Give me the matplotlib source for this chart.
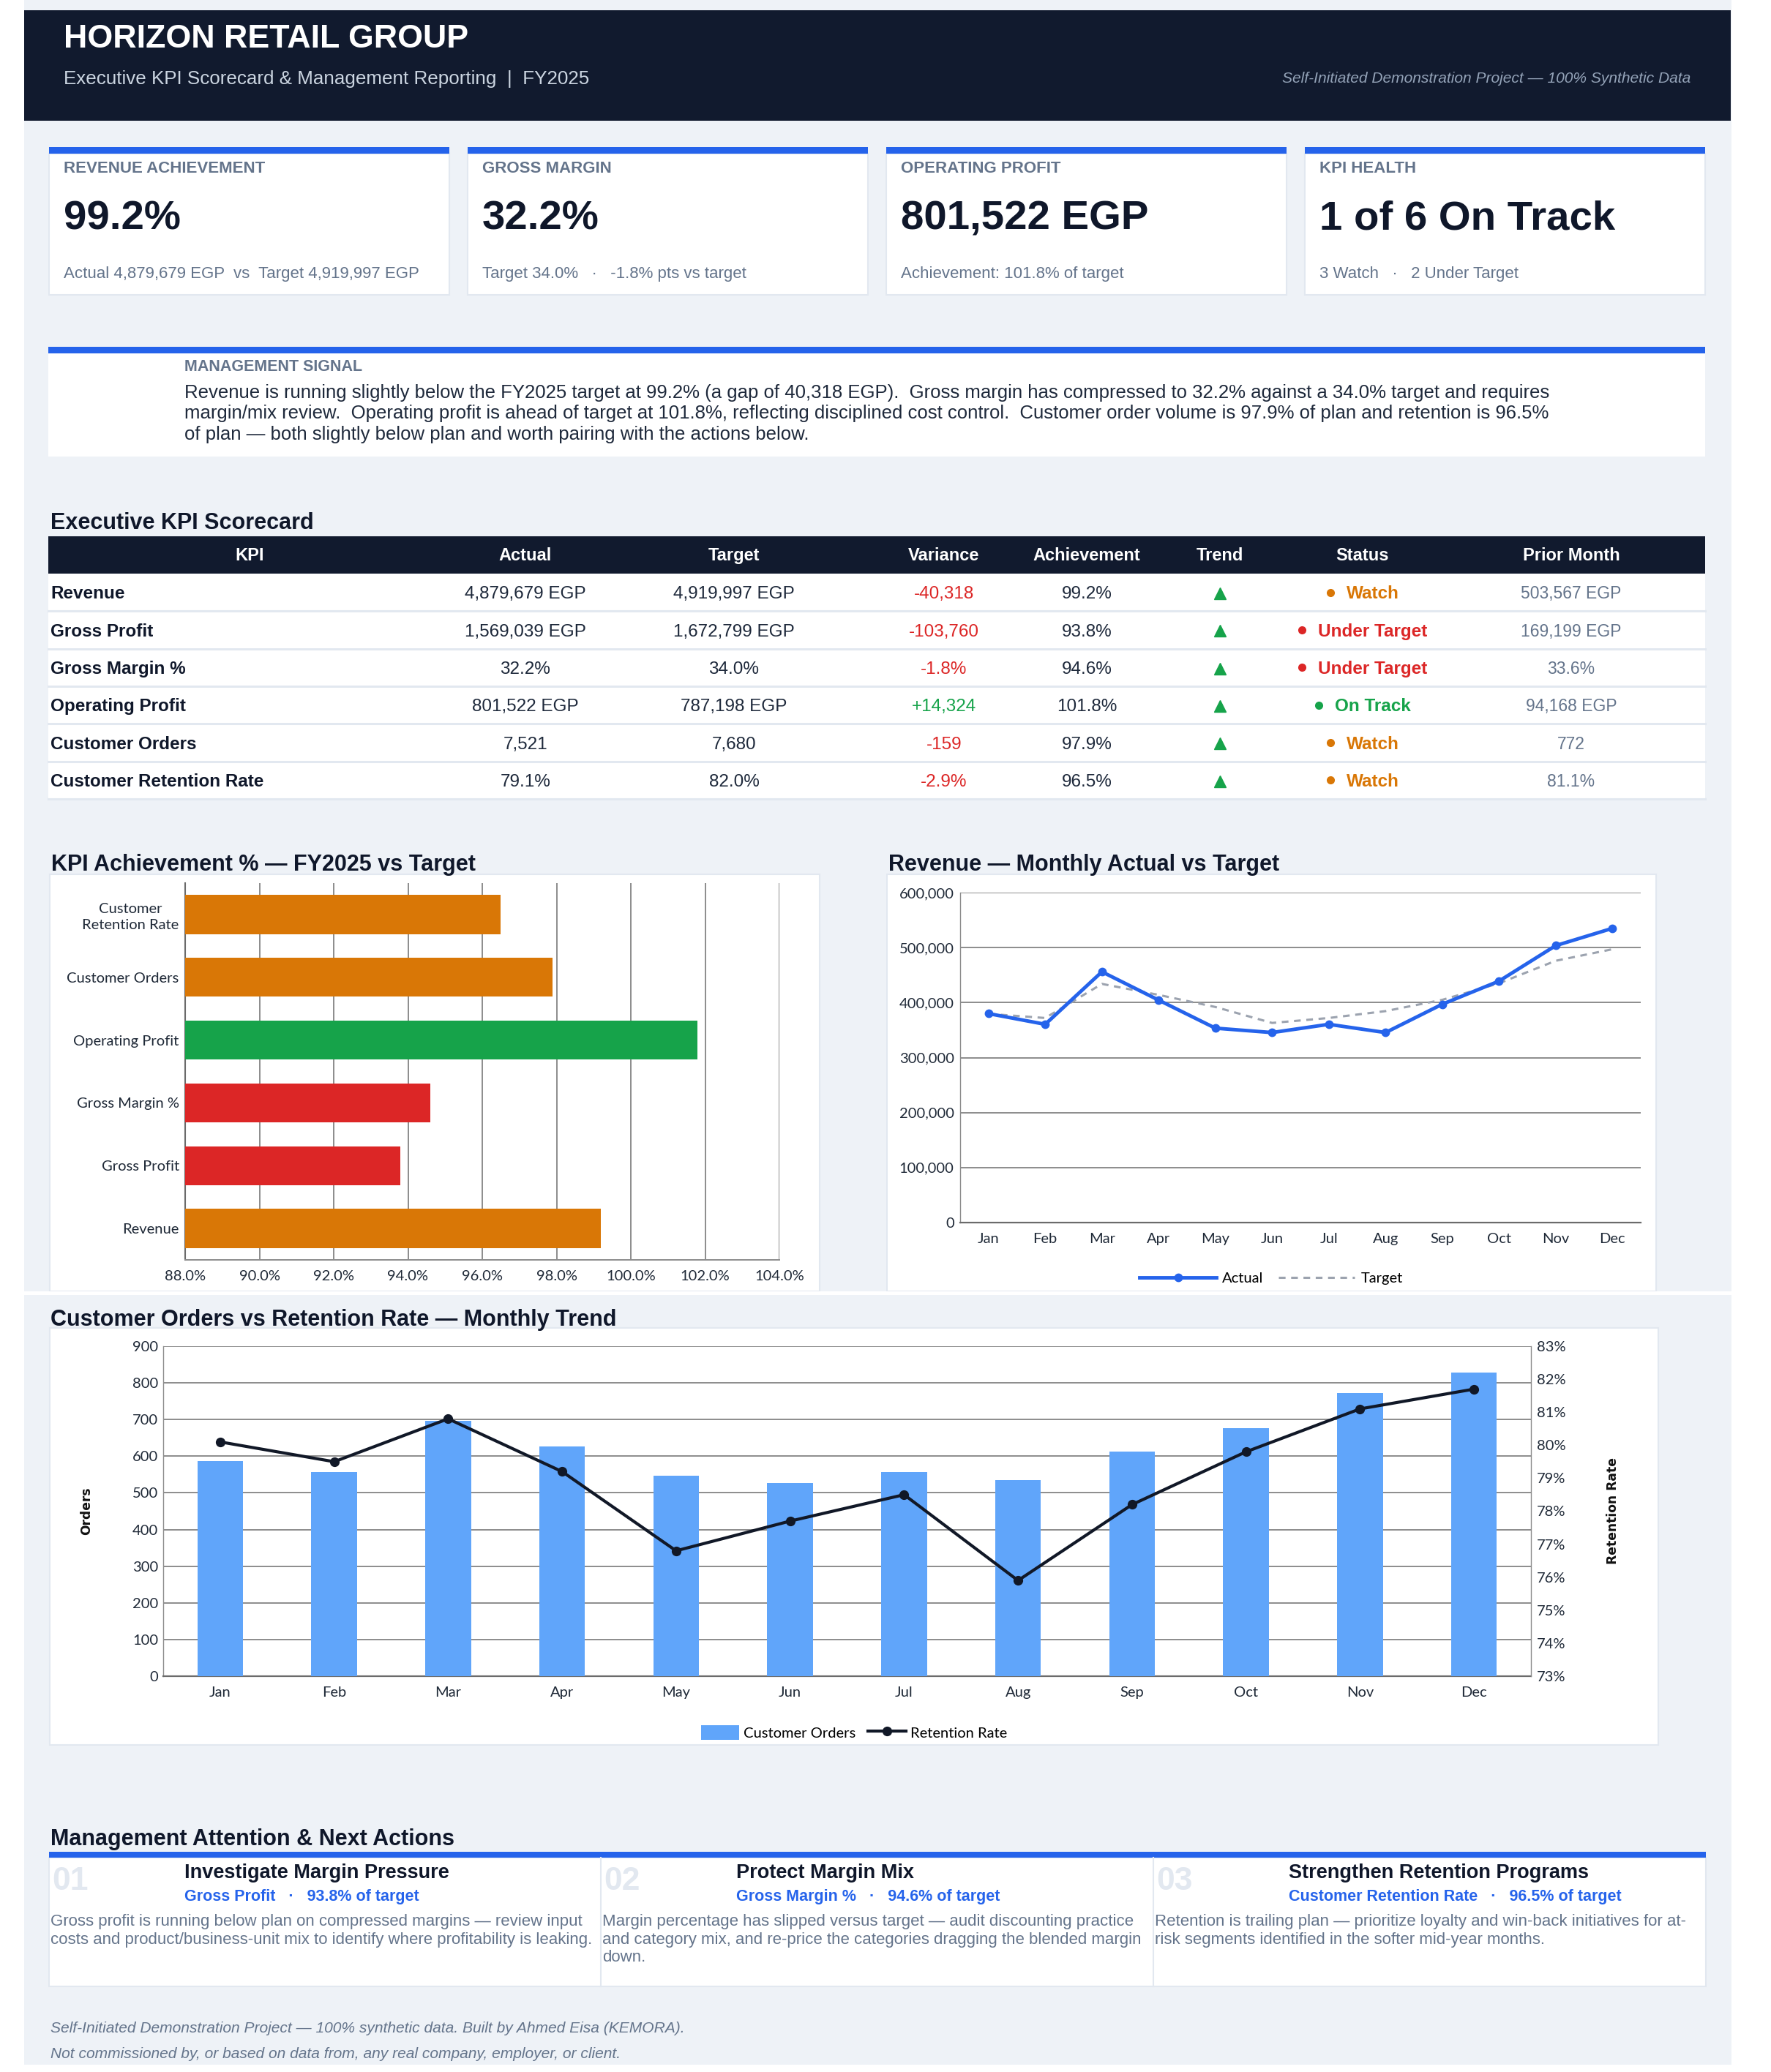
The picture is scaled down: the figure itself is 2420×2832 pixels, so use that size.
import matplotlib
matplotlib.use('Agg')
import matplotlib.pyplot as plt
from matplotlib.patches import Rectangle, Patch
from matplotlib.lines import Line2D
from matplotlib.ticker import FuncFormatter

W, H = 2420, 2832
DPI = 100

# ---------------- data ----------------
months = ['Jan', 'Feb', 'Mar', 'Apr', 'May', 'Jun', 'Jul', 'Aug', 'Sep', 'Oct', 'Nov', 'Dec']
revenue_actual = [380000, 360500, 456000, 404500, 353500, 345500, 360500, 345500, 397000, 439000, 503567, 535000]
revenue_target = [379500, 372000, 434000, 414000, 392000, 363000, 372000, 384500, 405000, 435000, 476000, 497000]
customer_orders = [587, 557, 696, 626, 546, 527, 557, 535, 612, 677, 772, 829]
retention_rate = [80.1, 79.5, 80.8, 79.2, 76.8, 77.7, 78.5, 75.9, 78.2, 79.8, 81.1, 81.7]

kpi_names = ['Revenue', 'Gross Profit', 'Gross Margin %', 'Operating Profit', 'Customer Orders',
             'Customer Retention Rate']
kpi_actual = ['4,879,679 EGP', '1,569,039 EGP', '32.2%', '801,522 EGP', '7,521', '79.1%']
kpi_target = ['4,919,997 EGP', '1,672,799 EGP', '34.0%', '787,198 EGP', '7,680', '82.0%']
kpi_variance = ['-40,318', '-103,760', '-1.8%', '+14,324', '-159', '-2.9%']
kpi_achievement = [99.2, 93.8, 94.6, 101.8, 97.9, 96.5]
kpi_status = ['Watch', 'Under Target', 'Under Target', 'On Track', 'Watch', 'Watch']
kpi_prior = ['503,567 EGP', '169,199 EGP', '33.6%', '94,168 EGP', '772', '81.1%']
table_headers = ['KPI', 'Actual', 'Target', 'Variance', 'Achievement', 'Trend', 'Status', 'Prior Month']

card_labels = ['REVENUE ACHIEVEMENT', 'GROSS MARGIN', 'OPERATING PROFIT', 'KPI HEALTH']
card_values = ['99.2%', '32.2%', '801,522 EGP', '1 of 6 On Track']
card_notes = ['Actual 4,879,679 EGP  vs  Target 4,919,997 EGP',
              'Target 34.0%   \u00b7   -1.8% pts vs target',
              'Achievement: 101.8% of target',
              '3 Watch   \u00b7   2 Under Target']

signal_lines = [
    'Revenue is running slightly below the FY2025 target at 99.2% (a gap of 40,318 EGP).  Gross margin has compressed to 32.2% against a 34.0% target and requires',
    'margin/mix review.  Operating profit is ahead of target at 101.8%, reflecting disciplined cost control.  Customer order volume is 97.9% of plan and retention is 96.5%',
    'of plan \u2014 both slightly below plan and worth pairing with the actions below.',
]

action_numbers = ['01', '02', '03']
action_titles = ['Investigate Margin Pressure', 'Protect Margin Mix', 'Strengthen Retention Programs']
action_subs = ['Gross Profit   \u00b7   93.8% of target', 'Gross Margin %   \u00b7   94.6% of target',
               'Customer Retention Rate   \u00b7   96.5% of target']
action_texts = [
    ['Gross profit is running below plan on compressed margins \u2014 review input',
     'costs and product/business-unit mix to identify where profitability is leaking.'],
    ['Margin percentage has slipped versus target \u2014 audit discounting practice',
     'and category mix, and re-price the categories dragging the blended margin',
     'down.'],
    ['Retention is trailing plan \u2014 prioritize loyalty and win-back initiatives for at-',
     'risk segments identified in the softer mid-year months.'],
]
footer_lines = ['Self-Initiated Demonstration Project \u2014 100% synthetic data. Built by Ahmed Eisa (KEMORA).',
                'Not commissioned by, or based on data from, any real company, employer, or client.']

# ---------------- style ----------------
SANS = ['Liberation Sans', 'DejaVu Sans']
CH = ['Lato', 'DejaVu Sans']
NAVY = '#111a2e'
PAGE = '#eef2f7'
BLUE = '#2563eb'
SLATE = '#64748b'
INK = '#0f172a'
BODY = '#1e293b'
BORDER = '#e2e8f0'
STATUS_COL = {'Watch': '#d97706', 'Under Target': '#dc2626', 'On Track': '#16a34a'}
GRID = '#8c8c8c'

fig = plt.figure(figsize=(W / DPI, H / DPI), dpi=DPI, facecolor='white')
bg = fig.add_axes([0, 0, 1, 1])
bg.set_xlim(0, W)
bg.set_ylim(H, 0)
bg.axis('off')


def rect(x0, y0, x1, y1, fc, ec='none', lw=0, z=1):
    bg.add_patch(Rectangle((x0, y0), x1 - x0, y1 - y0, facecolor=fc, edgecolor=ec, linewidth=lw, zorder=z))


def txt(x, y, s, size, color, weight='normal', ha='left', va='baseline', style='normal', family=SANS, z=5):
    return bg.text(x, y, s, fontsize=size, color=color, fontweight=weight, ha=ha, va=va,
                   fontstyle=style, family=family, zorder=z)


def px_ax(x0, y0, x1, y1):
    return fig.add_axes([x0 / W, 1 - y1 / H, (x1 - x0) / W, (y1 - y0) / H])


# page + header
rect(33, 0, 2366, 2822, PAGE, z=0)
rect(33, 14, 2365, 165, NAVY)
txt(87, 65, 'HORIZON RETAIL GROUP', 32.2, 'white', 'bold')
txt(87, 115, 'Executive KPI Scorecard & Management Reporting  |  FY2025', 18.7, '#cbd5e1')
txt(2310, 113, 'Self-Initiated Demonstration Project \u2014 100% Synthetic Data', 15.1, '#94a3b8',
    ha='right', style='italic')

# KPI cards
card_w = 547
for i in range(4):
    x = 67 + i * 572
    rect(x, 210, x + card_w, 403, 'white', BORDER, 1.5)
    rect(x, 201, x + card_w, 210, BLUE, z=2)
    txt(x + 20, 236, card_labels[i], 16, SLATE, 'bold')
    txt(x + 20, 314, card_values[i], 40.6, INK, 'bold')
    txt(x + 20, 380, card_notes[i], 16, SLATE)

# management signal
rect(66, 483, 2330, 624, 'white')
rect(66, 474, 2330, 483, BLUE, z=2)
txt(252, 507, 'MANAGEMENT SIGNAL', 15.5, SLATE, 'bold')
for j, line in enumerate(signal_lines):
    txt(252, 544 + j * 28.4, line, 18.55, BODY)

# scorecard table
txt(69, 723, 'Executive KPI Scorecard', 22, INK, 'bold')
rect(66, 733, 2330, 784, NAVY)
col_x = [341, 718, 1003, 1290, 1485, 1667, 1862, 2147]
for h, cx in zip(table_headers, col_x):
    txt(cx, 766, h, 17, 'white', 'bold', ha='center')

renderer = fig.canvas.get_renderer()
row_h = 51.3
for i in range(len(kpi_names)):
    top = 784 + i * row_h
    rect(66, top, 2330, top + row_h, 'white')
    bg.plot([66, 2330], [top + row_h, top + row_h], color=BORDER, lw=2.2, zorder=3)
    cy = top + row_h / 2
    by = cy + 8.7
    txt(69, by, kpi_names[i], 17.5, INK, 'bold')
    txt(col_x[1], by, kpi_actual[i], 17.5, BODY, ha='center')
    txt(col_x[2], by, kpi_target[i], 17.5, BODY, ha='center')
    vcol = '#16a34a' if kpi_variance[i].startswith('+') else '#dc2626'
    txt(col_x[3], by, kpi_variance[i], 17.5, vcol, ha='center')
    txt(col_x[4], by, f'{kpi_achievement[i]:.1f}%', 17.5, BODY, ha='center')
    bg.plot([col_x[5]], [cy + 1.5], marker='^', ms=12, color='#16a34a', zorder=6, ls='none')
    scol = STATUS_COL[kpi_status[i]]
    t = txt(0, by, kpi_status[i], 17.5, scol, 'bold')
    tw = t.get_window_extent(renderer).width
    dot_gap = 27
    start = col_x[6] - (tw + dot_gap) / 2
    t.set_x(start + dot_gap)
    bg.plot([start + 5.5], [cy], 'o', ms=8, color=scol, zorder=6, mec='none')
    txt(col_x[7], by, kpi_prior[i], 16.5, SLATE, ha='center')

# ---------------- chart 1: KPI achievement ----------------
rect(68, 1195, 1120, 1765, 'white', BORDER, 1.5)
txt(70, 1190, 'KPI Achievement % \u2014 FY2025 vs Target', 22, INK, 'bold')
ax1 = px_ax(253, 1207, 1065, 1722)
ax1.set_facecolor('none')
bar_cols = [STATUS_COL[s] for s in kpi_status]
ax1.barh(range(len(kpi_names)), kpi_achievement, height=0.62, color=bar_cols, zorder=3)
ax1.set_xlim(88, 104)
ax1.set_ylim(-0.5, 5.5)
ax1.set_xticks(range(88, 105, 2))
ax1.xaxis.set_major_formatter(FuncFormatter(lambda v, p: f'{v:.1f}%'))
ax1.set_yticks(range(len(kpi_names)))
ax1.set_yticklabels([n.replace('Customer Retention', 'Customer\nRetention') for n in kpi_names])
for lbl in ax1.get_yticklabels():
    lbl.set_multialignment('center')
    lbl.set_linespacing(1.35)
ax1.grid(axis='x', color=GRID, lw=1.4, zorder=0)
for s in ['top', 'right']:
    ax1.spines[s].set_visible(False)
ax1.spines['left'].set_color('#6b6b6b')
ax1.spines['left'].set_linewidth(1.5)
ax1.spines['bottom'].set_color(GRID)
ax1.spines['bottom'].set_linewidth(1.4)
ax1.tick_params(length=0, labelsize=14.5, colors='#1f2937', pad=6)
ax1.tick_params(axis='x', pad=10)
for lbl in ax1.get_xticklabels() + ax1.get_yticklabels():
    lbl.set_family(CH)

# ---------------- chart 2: revenue monthly ----------------
rect(1212, 1195, 2263, 1765, 'white', BORDER, 1.5)
txt(1214, 1190, 'Revenue \u2014 Monthly Actual vs Target', 22, INK, 'bold')
ax2 = px_ax(1312, 1220, 2242, 1671)
ax2.set_facecolor('none')
xm = list(range(len(months)))
ax2.plot(xm, revenue_target, color='#9ca3af', lw=2.2, ls=(0, (3, 2.5)), zorder=3)
ax2.plot(xm, revenue_actual, color=BLUE, lw=3.5, marker='o', ms=7.5, zorder=4)
ax2.set_xlim(-0.5, 11.5)
ax2.set_ylim(0, 600000)
ax2.set_yticks(range(0, 600001, 100000))
ax2.yaxis.set_major_formatter(FuncFormatter(lambda v, p: f'{v:,.0f}'))
ax2.set_xticks(xm)
ax2.set_xticklabels(months)
ax2.grid(axis='y', color=GRID, lw=1.4, zorder=0)
for s in ['top', 'right']:
    ax2.spines[s].set_visible(False)
ax2.spines['left'].set_color(GRID)
ax2.spines['left'].set_linewidth(1.0)
ax2.spines['bottom'].set_color('#6b6b6b')
ax2.spines['bottom'].set_linewidth(1.6)
ax2.tick_params(length=0, labelsize=14.5, colors='#1f2937', pad=6)
ax2.tick_params(axis='x', pad=10)
for lbl in ax2.get_xticklabels() + ax2.get_yticklabels():
    lbl.set_family(CH)
h_act = Line2D([], [], color=BLUE, lw=3.5, marker='o', ms=7.5)
h_tgt = Line2D([], [], color='#9ca3af', lw=2.2, ls=(0, (3, 2.5)))
ax2.legend([h_act, h_tgt], ['Actual', 'Target'], loc='center', bbox_to_anchor=(1737 / W, 1 - 1747 / H),
           bbox_transform=fig.transFigure, ncol=2, frameon=False, handlelength=5.2, handletextpad=0.4,
           columnspacing=1.0, prop={'family': CH, 'size': 14.5})

# ---------------- chart 3: orders vs retention ----------------
rect(0, 1765, W, 1770, 'white', z=3)
rect(68, 1815, 2266, 2385, 'white', BORDER, 1.5)
txt(69, 1812, 'Customer Orders vs Retention Rate \u2014 Monthly Trend', 22, INK, 'bold')
ax3 = px_ax(223, 1840, 2092, 2291)
ax3.set_facecolor('none')
ax3.bar(xm, customer_orders, width=0.40, color='#60a5fa', zorder=3)
ax3.set_xlim(-0.5, 11.5)
ax3.set_ylim(0, 900)
ax3.set_yticks(range(0, 901, 100))
ax3.set_xticks(xm)
ax3.set_xticklabels(months)
ax3.grid(axis='y', color=GRID, lw=1.4, zorder=0)
ax3.spines['top'].set_visible(False)
ax3.spines['right'].set_visible(False)
ax3.spines['left'].set_color(GRID)
ax3.spines['left'].set_linewidth(1.0)
ax3.spines['bottom'].set_color('#6b6b6b')
ax3.spines['bottom'].set_linewidth(1.6)
ax3.tick_params(length=0, labelsize=14.5, colors='#1f2937', pad=5)
ax3.tick_params(axis='x', pad=10)
for lbl in ax3.get_xticklabels() + ax3.get_yticklabels():
    lbl.set_family(CH)
ax3.set_ylabel('Orders', fontsize=12.3, fontweight='bold', family=['DejaVu Sans'], color='#111111')
ax3.yaxis.set_label_coords(-0.0514, 0.5)

ax4 = ax3.twinx()
ax4.plot(xm, retention_rate, color='#111827', lw=3, marker='o', ms=8.5, zorder=4)
ax4.set_ylim(73, 83)
ax4.set_yticks(range(73, 84))
ax4.yaxis.set_major_formatter(FuncFormatter(lambda v, p: f'{v:.0f}%'))
for s in ['top', 'left', 'bottom']:
    ax4.spines[s].set_visible(False)
ax4.spines['right'].set_color(GRID)
ax4.spines['right'].set_linewidth(1.0)
ax4.tick_params(length=0, labelsize=14.5, colors='#1f2937', pad=6)
for lbl in ax4.get_yticklabels():
    lbl.set_family(CH)
ax4.set_ylabel('Retention Rate', fontsize=12.3, fontweight='bold', family=['DejaVu Sans'], color='#111111',
               rotation=90)
ax4.yaxis.set_label_coords(1.0551, 0.5)
h_bar = Patch(facecolor='#60a5fa')
h_ret = Line2D([], [], color='#111827', lw=3, marker='o', ms=8.5)
ax4.legend([h_bar, h_ret], ['Customer Orders', 'Retention Rate'], loc='center',
           bbox_to_anchor=(1167 / W, 1 - 2368 / H), bbox_transform=fig.transFigure, ncol=2, frameon=False,
           handlelength=2.6, handleheight=1.2, handletextpad=0.3, columnspacing=0.8,
           prop={'family': CH, 'size': 14.5})

# ---------------- management actions ----------------
txt(69, 2522, 'Management Attention & Next Actions', 22, INK, 'bold')
rect(67, 2539, 2331, 2715, 'white', BORDER, 1.5)
rect(67, 2531, 2331, 2539, BLUE, z=2)
col_starts = [67, 821, 1576]
for k in range(1, 3):
    bg.plot([col_starts[k], col_starts[k]], [2539, 2715], color=BORDER, lw=1.5, zorder=3)
for k in range(3):
    cx = col_starts[k]
    txt(cx + 4, 2583, action_numbers[k], 32, '#e2e8f0', 'bold')
    txt(cx + 185, 2567, action_titles[k], 19.5, INK, 'bold')
    txt(cx + 185, 2598, action_subs[k], 15.5, BLUE, 'bold')
    for j, line in enumerate(action_texts[k]):
        txt(cx + 2, 2632 + j * 24.5, line, 16, SLATE)

for j, line in enumerate(footer_lines):
    txt(69, 2778 + j * 35, line, 15.1, SLATE, style='italic')

fig.savefig('out.png', dpi=DPI, facecolor='white')
